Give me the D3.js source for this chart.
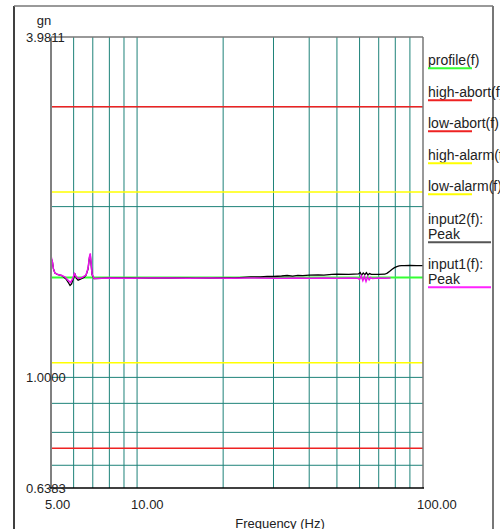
<!DOCTYPE html>
<html>
<head>
<meta charset="utf-8">
<script src="https://cdn.jsdelivr.net/npm/d3@7"></script>
<style>
  body { margin: 0; background: #fff; }
  svg { display: block; font-family: "Liberation Sans", Arial, sans-serif; }
</style>
</head>
<body>
<div id="chart"></div>
<script>
// Frequency (Hz) / level (gn) pairs
const profileFreq = [5, 100];
const profileVal = [1.5, 1.5];

const highAbort = 3.0;
const lowAbort = 0.75;
const highAlarm = 2.1213;
const lowAlarm = 1.0607;

// input2 (black trace)
const input2Freq = [5.0, 5.06, 5.10, 5.16, 5.29, 5.46, 5.51, 5.64, 5.76, 5.83, 5.90, 5.97, 6.07, 6.14,
  6.22, 6.31, 6.52, 6.63, 6.74, 6.81, 6.86, 6.90, 6.96, 7.07, 8.0, 10.0, 13.0, 16.0, 19.0, 22.0,
  23.5, 25.0, 27.0, 28.5, 30.0, 32.0, 33.5, 35.0, 36.5, 38.0, 40.0, 43.0, 45.0, 48.0, 50.0, 55.0,
  59.5, 60.3, 61.0, 61.8, 62.6, 63.4, 64.2, 65.0, 66.0, 70.0, 73.5, 75.0, 76.5, 78.0, 79.5, 81.0,
  82.5, 84.0, 86.0, 90.0, 95.0, 100.0];
const input2Val = [1.625, 1.595, 1.553, 1.527, 1.517, 1.511, 1.506, 1.491, 1.467, 1.452, 1.461, 1.488, 1.518, 1.494,
  1.484, 1.488, 1.500, 1.514, 1.553, 1.622, 1.645, 1.592, 1.517, 1.493, 1.497, 1.496, 1.497, 1.496, 1.497, 1.497,
  1.501, 1.504, 1.503, 1.507, 1.506, 1.509, 1.512, 1.508, 1.513, 1.511, 1.514, 1.516, 1.515, 1.519, 1.520, 1.519,
  1.522, 1.531, 1.514, 1.528, 1.517, 1.530, 1.515, 1.524, 1.519, 1.519, 1.520, 1.527, 1.538, 1.551, 1.561, 1.568,
  1.572, 1.574, 1.574, 1.575, 1.574, 1.574];

// input1 (magenta trace)
const input1Freq = [5.0, 5.06, 5.10, 5.16, 5.29, 5.46, 5.60, 5.73, 5.85, 5.95, 6.04, 6.12, 6.22, 6.42,
  6.63, 6.74, 6.81, 6.86, 6.90, 6.96, 7.07, 8.0, 9.5, 11.0, 13.0, 15.0, 18.0, 21.0, 25.0, 30.0,
  33.0, 36.0, 40.0, 45.0, 50.0, 55.0, 59.0, 60.0, 60.8, 61.6, 62.4, 63.2, 64.0, 64.8, 65.6, 66.5,
  70.0, 74.0, 77.0];
const input1Val = [1.637, 1.597, 1.553, 1.528, 1.518, 1.512, 1.503, 1.484, 1.470, 1.491, 1.524, 1.506, 1.494, 1.500,
  1.515, 1.559, 1.630, 1.654, 1.597, 1.521, 1.494, 1.497, 1.496, 1.497, 1.497, 1.496, 1.497, 1.496, 1.497, 1.496,
  1.495, 1.497, 1.496, 1.497, 1.495, 1.497, 1.496, 1.488, 1.509, 1.481, 1.506, 1.476, 1.503, 1.486, 1.500, 1.494,
  1.497, 1.496, 1.497];

// grid and tick labels
const xGrid = [6, 7, 8, 9, 10, 20, 30, 40, 50, 60, 70, 80, 90];
const yGrid = [0.7, 0.8, 0.9, 1, 2, 3];
const xLabels = [5, 10, 100];
const yLabels = [3.9811, 1.0, 0.6383];

const legendNames = [["profile(f)"], ["high-abort(f)"], ["low-abort(f)"], ["high-alarm(f)"],
  ["low-alarm(f)"], ["input2(f):", "Peak"], ["input1(f):", "Peak"]];
const legendColors = ["#33ff33", "#ee2222", "#ee2222", "#ffff00", "#ffff00", "#555555", "#ff22ff"];

const W = 502, H = 529;
const svg = d3.select("#chart").append("svg").attr("width", W).attr("height", H);

const x = d3.scaleLog().domain([5, 100]).range([51, 423]);
const y = d3.scaleLog().domain([0.6383, 3.9811]).range([488, 37]);

// outer frame
svg.append("line").attr("x1", 14).attr("x2", 14).attr("y1", 6).attr("y2", H)
  .attr("stroke", "#000").attr("stroke-width", 1.5);
svg.append("line").attr("x1", 14).attr("x2", 493).attr("y1", 6).attr("y2", 6)
  .attr("stroke", "#777").attr("stroke-width", 1.5);
svg.append("line").attr("x1", 493).attr("x2", 493).attr("y1", 6).attr("y2", H)
  .attr("stroke", "#777").attr("stroke-width", 2);

// grid
const grid = svg.append("g").attr("stroke", "#1e8279").attr("stroke-width", 1);
grid.selectAll(".gx").data(xGrid).join("line")
  .attr("x1", d => x(d)).attr("x2", d => x(d)).attr("y1", 37).attr("y2", 488);
grid.selectAll(".gy").data(yGrid).join("line")
  .attr("x1", 51).attr("x2", 423).attr("y1", d => y(d)).attr("y2", d => y(d));

// limit lines
const limits = [[highAbort, "#ee2222"], [lowAbort, "#ee2222"], [highAlarm, "#ffff00"], [lowAlarm, "#ffff00"]];
svg.append("g").selectAll("line").data(limits).join("line")
  .attr("x1", x(5)).attr("x2", x(100))
  .attr("y1", d => y(d[0])).attr("y2", d => y(d[0]))
  .attr("stroke", d => d[1]).attr("stroke-width", 1.5);

const line = d3.line().x(d => x(d[0])).y(d => y(d[1]));
const plot = svg.append("g");
plot.append("path").datum(d3.zip(profileFreq, profileVal)).attr("d", line)
  .attr("fill", "none").attr("stroke", "#33ff33").attr("stroke-width", 2);
plot.append("path").datum(d3.zip(input2Freq, input2Val)).attr("d", line)
  .attr("fill", "none").attr("stroke", "#000").attr("stroke-width", 1.3);
plot.append("path").datum(d3.zip(input1Freq, input1Val)).attr("d", line)
  .attr("fill", "none").attr("stroke", "#ee11ee").attr("stroke-width", 1.5);

// plot frame
svg.append("line").attr("x1", 51).attr("x2", 423).attr("y1", 37).attr("y2", 37)
  .attr("stroke", "#777").attr("stroke-width", 1.5);
svg.append("line").attr("x1", 423).attr("x2", 423).attr("y1", 37).attr("y2", 488)
  .attr("stroke", "#777").attr("stroke-width", 1.5);
svg.append("line").attr("x1", 51).attr("x2", 51).attr("y1", 37).attr("y2", 488)
  .attr("stroke", "#808080").attr("stroke-width", 2);
svg.append("line").attr("x1", 50).attr("x2", 424).attr("y1", 488).attr("y2", 488)
  .attr("stroke", "#000").attr("stroke-width", 1.5);

// axis labels
svg.append("g").attr("font-size", 13).attr("fill", "#222")
  .selectAll("text").data(xLabels).join("text")
  .attr("x", d => x(d) - 6).attr("y", 509).text(d => d.toFixed(2));
svg.append("g").attr("font-size", 13).attr("fill", "#222")
  .selectAll("text").data(yLabels).join("text")
  .attr("x", 26).attr("y", d => y(d) + 5).text(d => d.toFixed(4));
svg.append("text").attr("x", 44).attr("y", 25).attr("text-anchor", "middle")
  .attr("font-size", 13).attr("fill", "#222").text("gn");
svg.append("text").attr("x", 280).attr("y", 527.5).attr("text-anchor", "middle")
  .attr("font-size", 13).attr("fill", "#222").text("Frequency (Hz)");

// legend, cut off just past the outer frame as in the original
svg.append("clipPath").attr("id", "legclip").append("rect")
  .attr("x", 424).attr("y", 0).attr("width", 76).attr("height", H);
const legTops = [65, 97, 128, 160, 191, 224, 269];
const leg = svg.append("g").attr("clip-path", "url(#legclip)").attr("font-size", 14).attr("fill", "#222");
legendNames.forEach((lines, i) => {
  const g = leg.append("g");
  lines.forEach((t, j) => {
    g.append("text").attr("x", 428).attr("y", legTops[i] + j * 15).text(t);
  });
  const yy = legTops[i] + (lines.length - 1) * 15 + 3.3;
  g.append("line").attr("x1", 428).attr("x2", lines.length > 1 ? 491 : 472)
    .attr("y1", yy).attr("y2", yy)
    .attr("stroke", legendColors[i]).attr("stroke-width", 2);
});
</script>
</body>
</html>
